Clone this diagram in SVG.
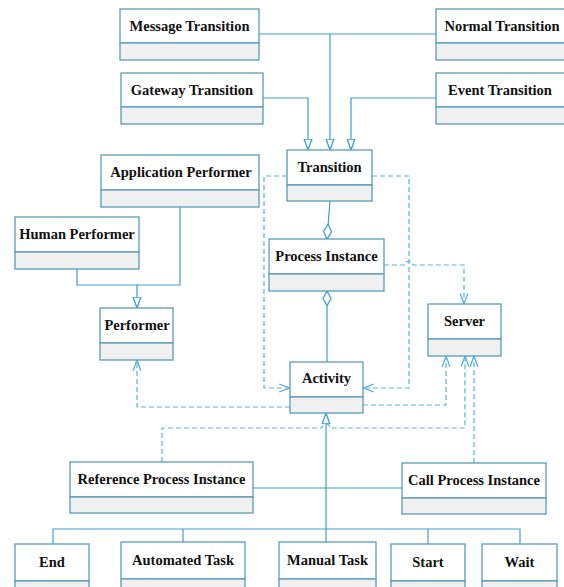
<svg xmlns="http://www.w3.org/2000/svg" width="564" height="587" viewBox="0 0 564 587">
<style>
.hd{fill:#ffffff;stroke:#5a9cb8;stroke-width:1.3}
.cp{fill:#f0f0f0;stroke:#5a9cb8;stroke-width:1.3}
.t{font-family:"Liberation Serif","Times New Roman",serif;font-weight:bold;font-size:14.5px;fill:#111;text-anchor:middle}
.s{fill:none;stroke:#3d9fd0;stroke-width:1.2}
.d{fill:none;stroke:#5ab3dc;stroke-width:1.2;stroke-dasharray:5 3}
</style>
<defs>
<marker id="gen" markerUnits="userSpaceOnUse" markerWidth="12" markerHeight="12" viewBox="0 0 10 8" refX="9.5" refY="4" orient="auto">
<path d="M0.5,0.8 L9.5,4 L0.5,7.2 Z" fill="#fff" stroke="#3d9fd0" stroke-width="1.1"/>
</marker>
<marker id="dep" markerUnits="userSpaceOnUse" markerWidth="12" markerHeight="12" viewBox="0 0 10 8" refX="9.5" refY="4" orient="auto">
<path d="M0.5,0.8 L9.5,4 L0.5,7.2" fill="none" stroke="#5ab3dc" stroke-width="1.1"/>
</marker>
<marker id="dia" markerUnits="userSpaceOnUse" markerWidth="16" markerHeight="10" viewBox="0 0 14 8" refX="13.5" refY="4" orient="auto">
<path d="M0.5,4 L7,0.5 L13.5,4 L7,7.5 Z" fill="#fff" stroke="#3d9fd0" stroke-width="1.1"/>
</marker>
</defs>

<g id="connectors">
<path class="s" d="M259,34 H330 V150" marker-end="url(#gen)"/>
<path class="s" d="M436,34 H330"/>
<path class="s" d="M263,98 H308 V150" marker-end="url(#gen)"/>
<path class="s" d="M436,98 H351 V150" marker-end="url(#gen)"/>
<path class="s" d="M330,201 L327,239" marker-end="url(#dia)"/>
<path class="s" d="M327,362 V291" marker-end="url(#dia)"/>
<path class="s" d="M77,269 V285 H137 V308" marker-end="url(#gen)"/>
<path class="s" d="M180,207 V285 H137"/>
<path class="s" d="M326,542 V413" marker-end="url(#gen)"/>
<path class="s" d="M253,488 H402"/>
<path class="s" d="M53,544 V529 H520 V544"/>
<path class="s" d="M183,529 V542"/>
<path class="s" d="M428,529 V544"/>
<path class="d" d="M287,176 H264 V388 H290" marker-end="url(#dep)"/>
<path class="d" d="M372,176 H409 V388 H363" marker-end="url(#dep)"/>
<path class="d" d="M384,265 H405 A4,4 0 0 1 413,265 H464 V304" marker-end="url(#dep)"/>
<path class="d" d="M363,405 H446 V356" marker-end="url(#dep)"/>
<path class="d" d="M290,407 H137 V360" marker-end="url(#dep)"/>
<path class="d" d="M162,462 V428 H322 A4,4 0 0 1 330,428 H465 V356" marker-end="url(#dep)"/>
<path class="d" d="M474,463 V356" marker-end="url(#dep)"/>
</g>

<g id="message-transition">
<rect class="hd" x="120" y="9" width="139" height="34"/><rect class="cp" x="120" y="43" width="139" height="17"/>
<text class="t" x="189.5" y="31">Message Transition</text>
</g>
<g id="gateway-transition">
<rect class="hd" x="121" y="73" width="142" height="34"/><rect class="cp" x="121" y="107" width="142" height="17"/>
<text class="t" x="192" y="95">Gateway Transition</text>
</g>
<g id="normal-transition">
<rect class="hd" x="436" y="9" width="130" height="34"/><rect class="cp" x="436" y="43" width="130" height="17"/>
<text class="t" x="502" y="31">Normal Transition</text>
</g>
<g id="event-transition">
<rect class="hd" x="436" y="73" width="130" height="34"/><rect class="cp" x="436" y="107" width="130" height="17"/>
<text class="t" x="500" y="95">Event Transition</text>
</g>
<g id="transition">
<rect class="hd" x="287" y="150" width="85" height="35"/><rect class="cp" x="287" y="185" width="85" height="16"/>
<text class="t" x="329.5" y="172">Transition</text>
</g>
<g id="application-performer">
<rect class="hd" x="101" y="155" width="158" height="35"/><rect class="cp" x="101" y="190" width="158" height="17"/>
<text class="t" x="181" y="177">Application Performer</text>
</g>
<g id="human-performer">
<rect class="hd" x="15" y="217" width="124" height="35"/><rect class="cp" x="15" y="252" width="124" height="17"/>
<text class="t" x="77" y="239">Human Performer</text>
</g>
<g id="process-instance">
<rect class="hd" x="269" y="239" width="115" height="35"/><rect class="cp" x="269" y="274" width="115" height="17"/>
<text class="t" x="326.5" y="261">Process Instance</text>
</g>
<g id="performer">
<rect class="hd" x="100" y="308" width="73" height="35"/><rect class="cp" x="100" y="343" width="73" height="17"/>
<text class="t" x="137" y="330">Performer</text>
</g>
<g id="server">
<rect class="hd" x="428" y="304" width="73" height="35"/><rect class="cp" x="428" y="339" width="73" height="17"/>
<text class="t" x="464.5" y="326">Server</text>
</g>
<g id="activity">
<rect class="hd" x="290" y="362" width="73" height="35"/><rect class="cp" x="290" y="397" width="73" height="16"/>
<text class="t" x="326.5" y="383">Activity</text>
</g>
<g id="reference-process-instance">
<rect class="hd" x="70" y="462" width="183" height="35"/><rect class="cp" x="70" y="497" width="183" height="16"/>
<text class="t" x="161.5" y="484">Reference Process Instance</text>
</g>
<g id="call-process-instance">
<rect class="hd" x="402" y="463" width="144" height="35"/><rect class="cp" x="402" y="498" width="144" height="16"/>
<text class="t" x="474" y="485">Call Process Instance</text>
</g>
<g id="end">
<rect class="hd" x="15" y="544" width="74" height="37"/><rect class="cp" x="15" y="581" width="74" height="12"/>
<text class="t" x="52" y="567">End</text>
</g>
<g id="automated-task">
<rect class="hd" x="121" y="542" width="124" height="37"/><rect class="cp" x="121" y="579" width="124" height="14"/>
<text class="t" x="183" y="565">Automated Task</text>
</g>
<g id="manual-task">
<rect class="hd" x="279" y="542" width="97" height="37"/><rect class="cp" x="279" y="579" width="97" height="14"/>
<text class="t" x="327.5" y="565">Manual Task</text>
</g>
<g id="start">
<rect class="hd" x="391" y="544" width="74" height="37"/><rect class="cp" x="391" y="581" width="74" height="12"/>
<text class="t" x="428" y="567">Start</text>
</g>
<g id="wait">
<rect class="hd" x="482" y="544" width="75" height="37"/><rect class="cp" x="482" y="581" width="75" height="12"/>
<text class="t" x="519.5" y="567">Wait</text>
</g>
</svg>
